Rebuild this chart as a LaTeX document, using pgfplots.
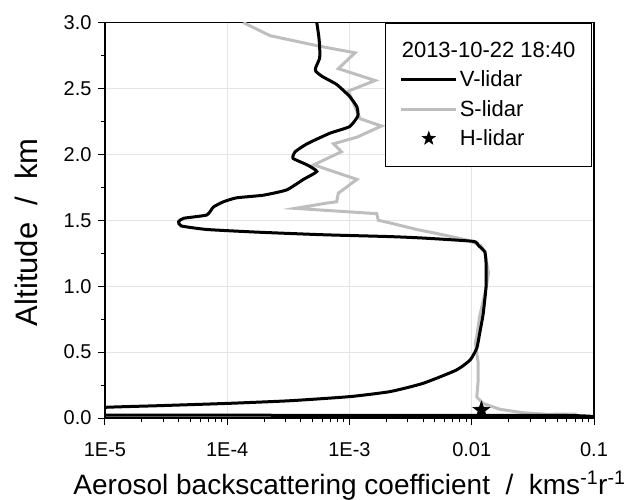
\documentclass[border=0pt]{standalone}
\usepackage{fontspec}
\setmainfont{Liberation Sans}
\usepackage{pgfplots}
\pgfplotsset{compat=1.18}
\definecolor{sgray}{RGB}{190,190,190}
\definecolor{gridgray}{RGB}{228,228,228}
\pgfdeclareplotmark{fstar}{%
  \pgfpathmoveto{\pgfpointpolar{90}{\pgfplotmarksize}}%
  \pgfpathlineto{\pgfpointpolar{126}{0.4\pgfplotmarksize}}%
  \pgfpathlineto{\pgfpointpolar{162}{\pgfplotmarksize}}%
  \pgfpathlineto{\pgfpointpolar{198}{0.4\pgfplotmarksize}}%
  \pgfpathlineto{\pgfpointpolar{234}{\pgfplotmarksize}}%
  \pgfpathlineto{\pgfpointpolar{270}{0.4\pgfplotmarksize}}%
  \pgfpathlineto{\pgfpointpolar{306}{\pgfplotmarksize}}%
  \pgfpathlineto{\pgfpointpolar{342}{0.4\pgfplotmarksize}}%
  \pgfpathlineto{\pgfpointpolar{18}{\pgfplotmarksize}}%
  \pgfpathlineto{\pgfpointpolar{54}{0.4\pgfplotmarksize}}%
  \pgfpathclose
  \pgfusepathqfillstroke}
\begin{document}
\begin{tikzpicture}
\begin{axis}[
  at={(0,0)}, anchor=south west,
  scale only axis, width=489pt, height=395.5pt,
  xmode=log, xmin=1e-5, xmax=0.1, ymin=0, ymax=3,
  xtick={1e-5,1e-4,1e-3,1e-2,1e-1},
  xticklabels={1E-5,1E-4,1E-3,0.01,0.1},
  ytick={0,0.5,1,1.5,2,2.5,3},
  minor ytick={0.25,0.75,1.25,1.75,2.25,2.75},
  yticklabel style={xshift=-3pt, /pgf/number format/.cd,fixed,fixed zerofill,precision=1},
  /pgf/number format/assume math mode=true,
  tick pos=left, tick align=outside,
  major tick length=7pt, minor tick length=4pt,
  every tick/.style={black, line width=1pt},
  grid=major, major grid style={gridgray, line width=0.8pt},
  axis line style={line width=1.3pt},
  tick label style={font=\fontsize{20}{24}\selectfont},
  xticklabel style={yshift=-14pt},
  xlabel={Aerosol backscattering coefficient\ \ /\ \ kms\textsuperscript{-1}r\textsuperscript{-1}},
  xlabel style={font=\fontsize{28}{32}\selectfont, at={(axis description cs:0.5,0)}, anchor=base, yshift=-76pt},
  ylabel={Altitude\ \ /\ \ km},
  ylabel style={font=\fontsize{31}{36}\selectfont, at={(axis description cs:-0.139,0.47)}, anchor=base},
  legend cell align=left,
  legend style={at={(axis description cs:0.9959,1)}, anchor=north east, draw=black, line width=1pt, fill=white,
    font=\fontsize{22}{26}\selectfont, inner xsep=14pt, inner ysep=17pt, row sep=8pt},
]
\addlegendimage{empty legend}
\addlegendentry{\hspace*{-58pt}2013-10-22 18:40}
\addlegendimage{legend image code/.code={\draw[black, line width=3pt] (0pt,0pt) -- (55pt,0pt);}}
\addlegendentry{V-lidar}
\addlegendimage{legend image code/.code={\draw[sgray, line width=3pt] (0pt,0pt) -- (55pt,0pt);}}
\addlegendentry{S-lidar}
\addlegendimage{legend image code/.code={\path[black, fill=black, line width=0.5pt] plot[mark=fstar, mark size=7pt, only marks] coordinates {(27.5pt,0pt)};}}
\addlegendentry{H-lidar}

\addplot[sgray, line width=3pt, forget plot] coordinates {
(1.35e-4,3.00) (2.24e-4,2.90) (5.7e-4,2.82) (1.11e-3,2.77) (8.1e-4,2.65) (1.62e-3,2.56)
(9.8e-4,2.48) (1.17e-3,2.31) (1.22e-3,2.27) (1.83e-3,2.215) (1.15e-3,2.13) (7.4e-4,2.08)
(8.6e-4,2.02) (5.1e-4,1.92) (1.15e-3,1.81) (8.1e-4,1.705) (7.85e-4,1.64) (6.5e-4,1.63)
(3.6e-4,1.59) (1.67e-3,1.55) (1.72e-3,1.50) (2.14e-3,1.48) (3.55e-3,1.43) (5.8e-3,1.39)
(9.1e-3,1.35) (0.0118,1.31) (0.0128,1.26) (0.0137,1.10) (0.0132,1.00) (0.0116,0.77)
(0.0110,0.62) (0.0107,0.57) (0.0113,0.415) (0.0113,0.29) (0.0110,0.16) (0.0124,0.11)
(0.017,0.066) (0.0264,0.04) (0.041,0.028) (0.072,0.03)
};
\addplot[black, line width=3pt, forget plot, smooth, tension=0.3] coordinates {
(5.4e-4,3.00) (5.6e-4,2.90) (5.7e-4,2.82) (5.7e-4,2.73) (5.3e-4,2.66) (5.3e-4,2.63)
(6.0e-4,2.59) (7.85e-4,2.53) (1.0e-3,2.44) (1.15e-3,2.36) (1.17e-3,2.29) (1.0e-3,2.21)
(6.9e-4,2.16) (4.5e-4,2.08) (3.6e-4,2.02) (3.45e-4,1.97) (4.5e-4,1.92) (5.4e-4,1.87)
(4.2e-4,1.81) (3.06e-4,1.73) (1.97e-4,1.69) (1.19e-4,1.67) (9.3e-5,1.64) (7.7e-5,1.60)
(6.8e-5,1.54) (4.4e-5,1.515) (4.0e-5,1.49) (4.2e-5,1.457) (6.8e-5,1.43) (1.74e-4,1.41)
(6.1e-4,1.39) (2.14e-3,1.376) (4.0e-3,1.365) (0.0103,1.34) (0.0113,1.31) (0.0128,1.26)
(0.0131,1.17) (0.0131,1.00) (0.0124,0.79) (0.0116,0.64) (0.0110,0.53) (0.0097,0.44)
(0.0075,0.364) (0.0040,0.263) (0.00214,0.20) (0.0010,0.162) (3.26e-4,0.131) (1.02e-4,0.111)
(2.65e-5,0.093) (1.0e-5,0.081) (1e-6,0.04) (1e-6,0.022) (0.045,0.02) (0.1,0.005)
};
\addplot[only marks, mark=fstar, mark size=9pt, black, fill=black, line width=0.5pt, forget plot] coordinates {(0.012,0.06)};
\end{axis}
\pgfresetboundingbox
\path[use as bounding box] (-105pt,-81pt) rectangle (529pt,418pt);
\end{tikzpicture}
\end{document}
